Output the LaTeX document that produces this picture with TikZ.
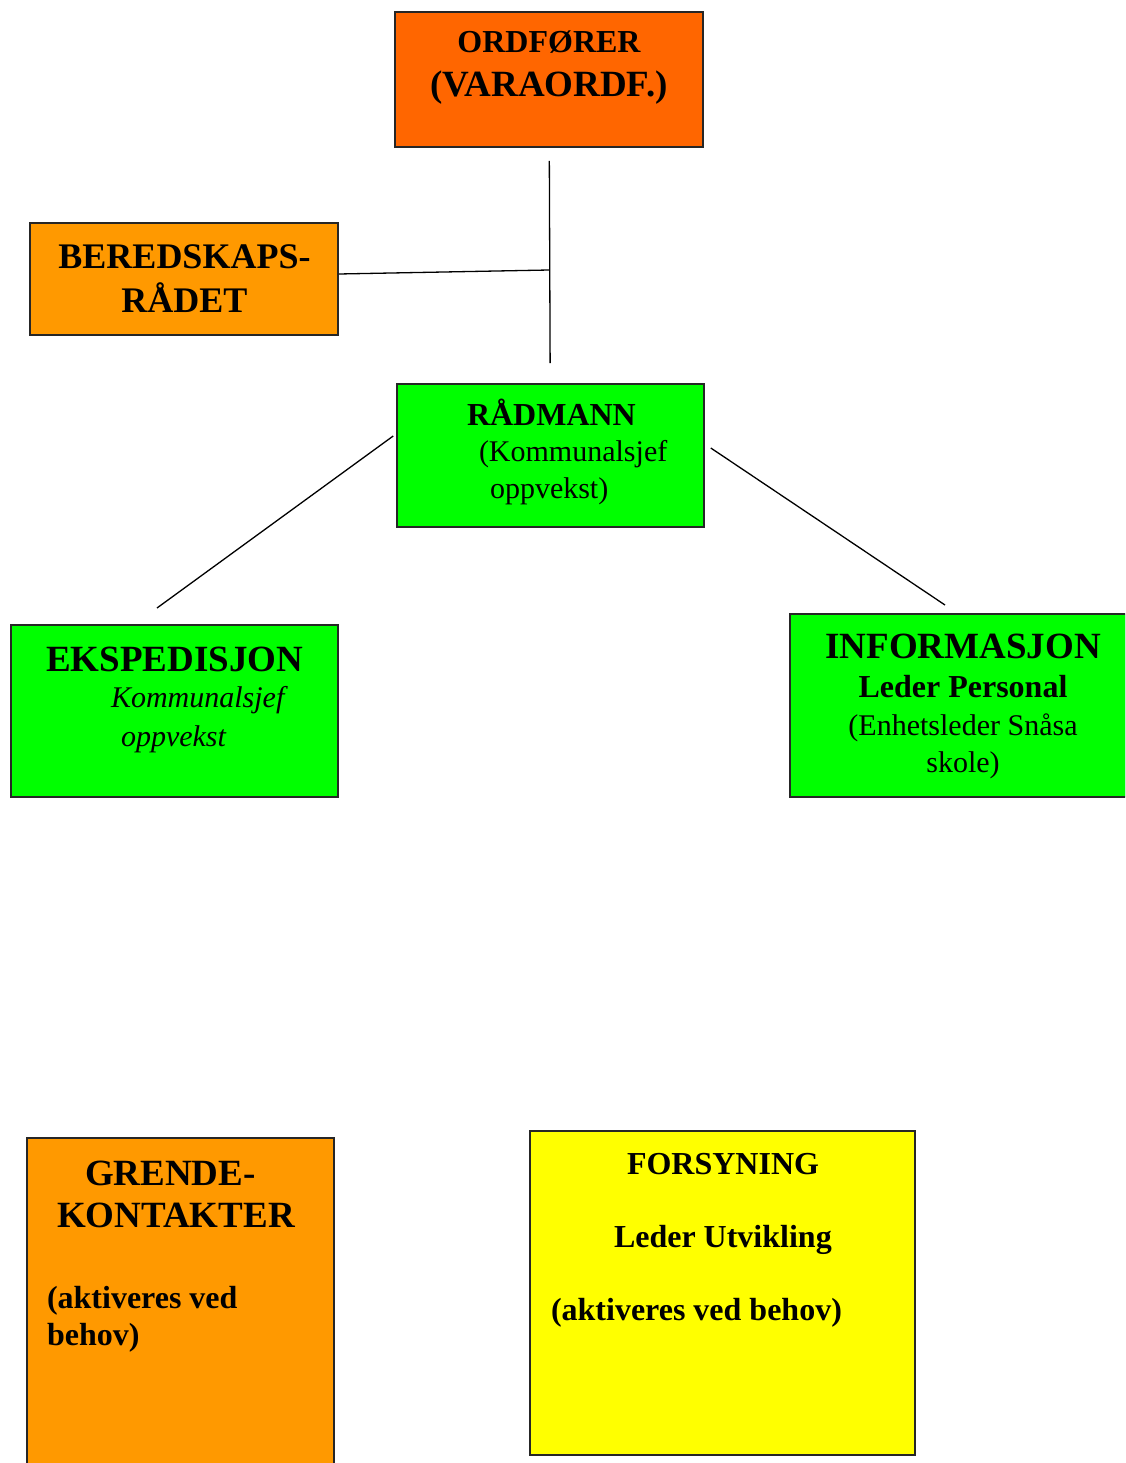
\documentclass[tikz,border=0pt]{standalone}
\usepackage{fontspec}
\setmainfont{Liberation Serif}
\usetikzlibrary{positioning}
\definecolor{ordcol}{HTML}{FF6600}
\definecolor{bercol}{HTML}{FF9900}
\definecolor{grcol}{HTML}{00FF00}
\definecolor{yecol}{HTML}{FFFF00}
\newcommand{\bb}{\fontsize{37}{42}\selectfont\bfseries}
\newcommand{\mb}{\fontsize{32}{37}\selectfont\bfseries}
\newcommand{\rr}{\fontsize{30}{36}\selectfont}

\begin{document}
\begin{tikzpicture}[x=1pt,y=-1pt,
    box/.style={draw=black!85, line width=1.6pt, inner sep=0pt},
    txt/.style={inner sep=0pt, outer sep=0pt, anchor=base},
    link/.style={line width=1.3pt}]

\useasboundingbox (0,0) rectangle (1125,1463);
\clip (0,0) rectangle (1125,1463);

                  \node [box, fill=ordcol, minimum width=308pt, minimum height=135pt] at (549,79.5) (O) {};
              \node [box, fill=bercol, minimum width=308pt, minimum height=112pt] at (184,279) (B) {};
                   \node [box, fill=grcol, minimum width=307pt, minimum height=143pt] at (550.5,455.5) (R) {};
                       \node [box, fill=grcol, minimum width=327pt, minimum height=172pt] at (174.5,711) (E) {};
                        \node [box, fill=grcol, minimum width=336pt, minimum height=183pt] at (958,705.5) (I) {};
                        \node [box, fill=bercol, minimum width=307pt, minimum height=334pt] at (180.5,1305) (G) {};
                          \node [box, fill=yecol, minimum width=385pt, minimum height=324pt] at (722.5,1293) (F) {};
% texts, anchored at the baseline of their last line
\node [txt, align=center, font=\fontsize{32}{44}\selectfont] at (549,97) (Ot) {\mb ORDFØRER\\ \bb (VARAORDF.)};
\node [txt, align=center, font=\fontsize{36}{44}\selectfont] at (184.5,312) (Bt) {\fontsize{36}{44}\selectfont\bfseries BEREDSKAPS-\\ \fontsize{36}{44}\selectfont\bfseries RÅDET};
\node [txt, align=left, anchor=base west, font=\fontsize{30}{36.5}\selectfont] at (467,498) (Rt) {\mb RÅDMANN\\ \rr\hspace*{12pt}(Kommunalsjef\\ \rr\hspace*{23pt}oppvekst)};
\node [txt, align=left, anchor=base west, font=\fontsize{30}{36}\selectfont] at (46,746) (Et) {\bb EKSPEDISJON\\ \rr\itshape\hspace*{65pt}Kommunalsjef\\[3pt] \rr\itshape\hspace*{75pt}oppvekst};
\node [txt, align=center, font=\fontsize{30}{37}\selectfont] at (963,772) (It) {\bb INFORMASJON\\[2pt] \mb Leder Personal\\[1pt] \rr (Enhetsleder Snåsa\\ \rr skole)};
\node [txt, align=left, anchor=base west, font=\fontsize{32}{37}\selectfont] at (47,1345) (Gt) {\bb\hspace*{38pt}GRENDE-\\[5pt] \bb\hspace*{10pt}KONTAKTER\\[44pt] \mb (aktiveres ved\\ \mb behov)};
\node [txt, align=left, anchor=base west, font=\fontsize{32}{36.5}\selectfont] at (551,1320) (Ft) {\mb\hspace*{76pt}FORSYNING\\[36.5pt] \mb\hspace*{63pt}Leder Utvikling\\[36.5pt] \mb (aktiveres ved behov)};
%
\coordinate (J) at (549,270);
\coordinate (Ein) at (157,608);
\coordinate (Iin) at (945,605);
\draw[link, shorten <=13pt, shorten >=20pt] (O) -- (R);
\draw[link] ([yshift=5pt]B.east) -- (J);
\draw[link] ([xshift=-3pt,yshift=19.5pt]R.west) -- (Ein);
\draw[link] ([xshift=6pt,yshift=7.5pt]R.east) -- (Iin);
%

\end{tikzpicture}
\end{document}
